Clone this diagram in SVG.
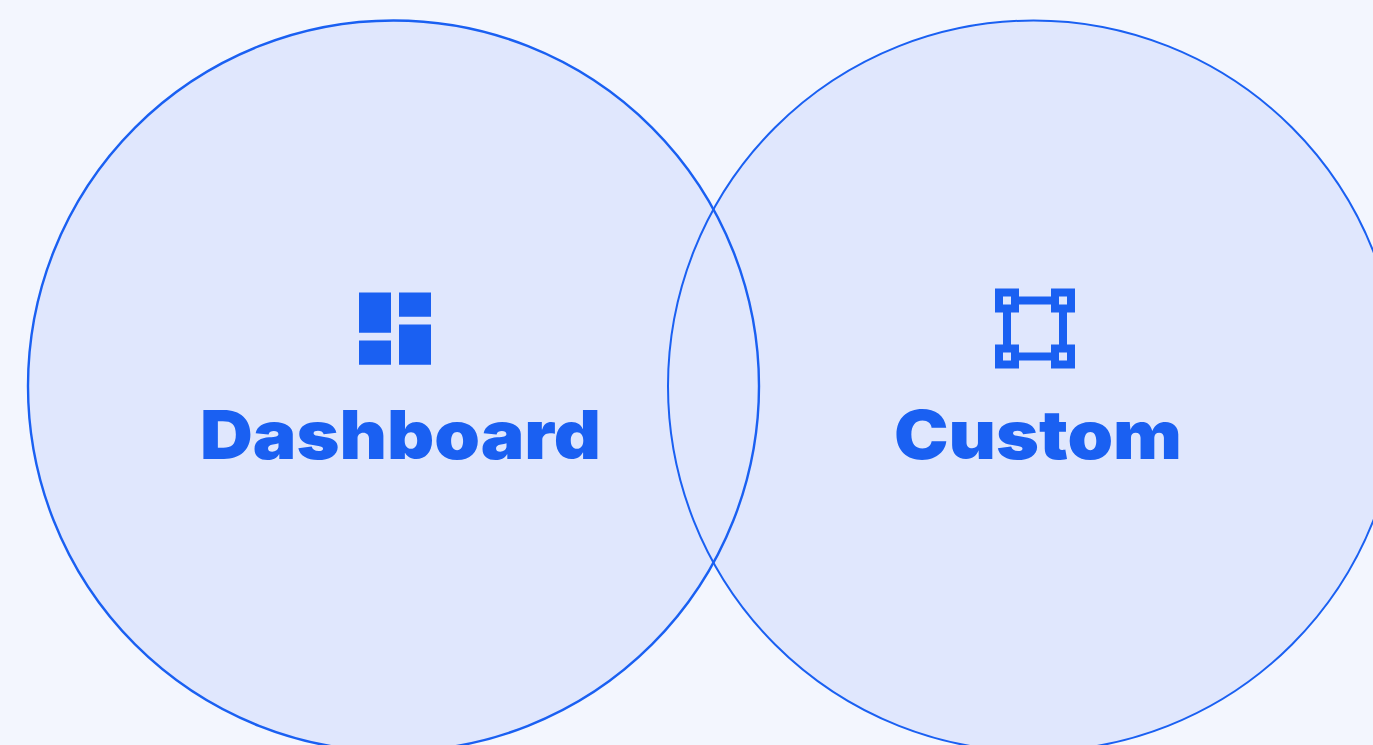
<svg xmlns="http://www.w3.org/2000/svg" width="1373" height="745" viewBox="0 0 1373 745">
  <style>
    .f { fill: #e0e7fd; }
    .c { fill: none; stroke: #1a60f2; stroke-width: 2; }
    .i { fill: #1a60f2; }
    .t { fill: #1a60f2; font-family: Inter, "Liberation Sans", sans-serif; font-weight: 900; font-size: 67.5px; }
  </style>
  <rect width="1373" height="745" fill="#f3f6fe"/>
  <g id="circle-fills">
    <circle class="f" cx="393.5" cy="386" r="365.5"/>
    <circle class="f" cx="1033.5" cy="386" r="365.5"/>
  </g>
  <g id="node-dashboard">
    <circle class="c" cx="393.5" cy="386" r="365.5" style="stroke-width:2.4"/>
    <path class="i" d="M359 292.4h32v40.3h-32zM399 292.4h32v24.3h-32zM359 340.4h32v24.3h-32zM399 324.4h32v40.3h-32z"/>
    <text class="t" x="200" y="458.5" textLength="401" lengthAdjust="spacingAndGlyphs">Dashboard</text>
  </g>
  <g id="node-custom">
    <circle class="c" cx="1033.5" cy="386" r="365.5"/>
    <path class="i" fill-rule="evenodd" d="M995 288.4h24v8h32v-8h24v24h-8v32h8v24h-24v-8h-32v8h-24v-24h8v-32h-8zM1003 296.4v8h8v-8zM1059 296.4v8h8v-8zM1003 352.4v8h8v-8zM1059 352.4v8h8v-8zM1019 304.4v8h-8v32h8v8h32v-8h8v-32h-8v-8z"/>
    <text class="t" x="894" y="458.5" textLength="288" lengthAdjust="spacingAndGlyphs">Custom</text>
  </g>
  <g id="connectors"></g>
</svg>
